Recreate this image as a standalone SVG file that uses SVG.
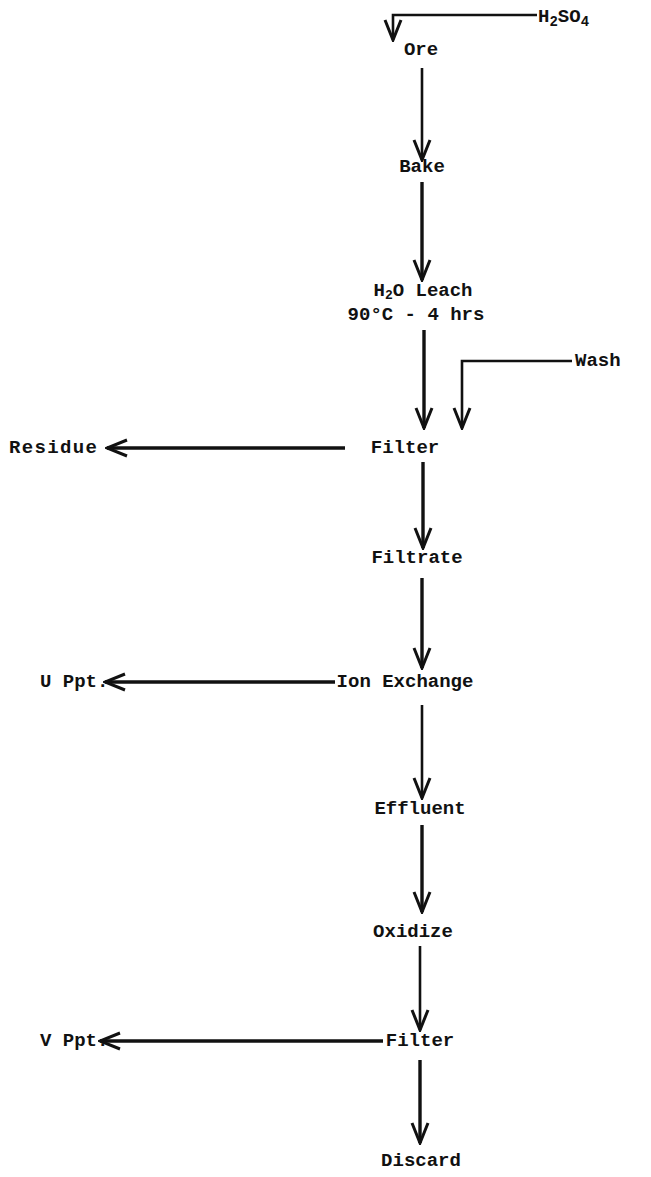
<svg xmlns="http://www.w3.org/2000/svg" width="651" height="1177" viewBox="0 0 651 1177">
<style>
text{font-family:"Liberation Mono","Courier New",monospace;font-size:19px;font-weight:bold;fill:#111}
.c{text-anchor:middle}
.ln{stroke:#111;stroke-width:2.6;fill:none}
.th{stroke-width:3.4}
</style>
<defs>
<marker id="ah" markerUnits="userSpaceOnUse" markerWidth="24" markerHeight="22" viewBox="0 0 24 22" refX="22" refY="11" orient="auto">
<path d="M2,3 L22,11 L2,19" fill="none" stroke="#111" stroke-width="3" stroke-linejoin="miter"/>
</marker>
</defs>
<rect width="651" height="1177" fill="#fff"/>
<g id="connectors">
<path class="ln" d="M537,15 H393 V40" marker-end="url(#ah)"/>
<path class="ln" d="M422,68 V160" marker-end="url(#ah)"/>
<path class="ln th" d="M422,182 V280" marker-end="url(#ah)"/>
<path class="ln th" d="M424,330 V428" marker-end="url(#ah)"/>
<path class="ln" d="M572,361 H462 V428" marker-end="url(#ah)"/>
<path class="ln th" d="M345,448 H107" marker-end="url(#ah)"/>
<path class="ln th" d="M423,462 V548" marker-end="url(#ah)"/>
<path class="ln th" d="M422,578 V668" marker-end="url(#ah)"/>
<path class="ln th" d="M335,682 H105" marker-end="url(#ah)"/>
<path class="ln" d="M422,705 V798" marker-end="url(#ah)"/>
<path class="ln th" d="M422,825 V912" marker-end="url(#ah)"/>
<path class="ln" d="M420,946 V1030" marker-end="url(#ah)"/>
<path class="ln th" d="M383,1041 H100" marker-end="url(#ah)"/>
<path class="ln th" d="M420,1060 V1143" marker-end="url(#ah)"/>
</g>
<g id="h2so4"><text x="538" y="22">H<tspan font-size="14" dy="4">2</tspan><tspan dy="-4">SO</tspan><tspan font-size="14" dy="4">4</tspan></text></g>
<g id="ore"><text class="c" x="421" y="55">Ore</text></g>
<g id="bake"><text class="c" x="422" y="172">Bake</text></g>
<g id="leach"><text class="c" x="423" y="296">H<tspan font-size="13" dy="3">2</tspan><tspan dy="-3">O Leach</tspan></text><text class="c" x="416" y="320">90°C - 4 hrs</text></g>
<g id="wash"><text x="575" y="366">Wash</text></g>
<g id="filter1"><text class="c" x="405" y="453">Filter</text></g>
<g id="residue"><text x="9" y="453" textLength="88" lengthAdjust="spacing">Residue</text></g>
<g id="filtrate"><text class="c" x="417" y="563">Filtrate</text></g>
<g id="ionexchange"><text class="c" x="405" y="687">Ion Exchange</text></g>
<g id="uppt"><text x="40" y="687">U Ppt.</text></g>
<g id="effluent"><text class="c" x="420" y="814">Effluent</text></g>
<g id="oxidize"><text class="c" x="413" y="937">Oxidize</text></g>
<g id="filter2"><text class="c" x="420" y="1046">Filter</text></g>
<g id="vppt"><text x="40" y="1046">V Ppt.</text></g>
<g id="discard"><text class="c" x="421" y="1166">Discard</text></g>
</svg>
